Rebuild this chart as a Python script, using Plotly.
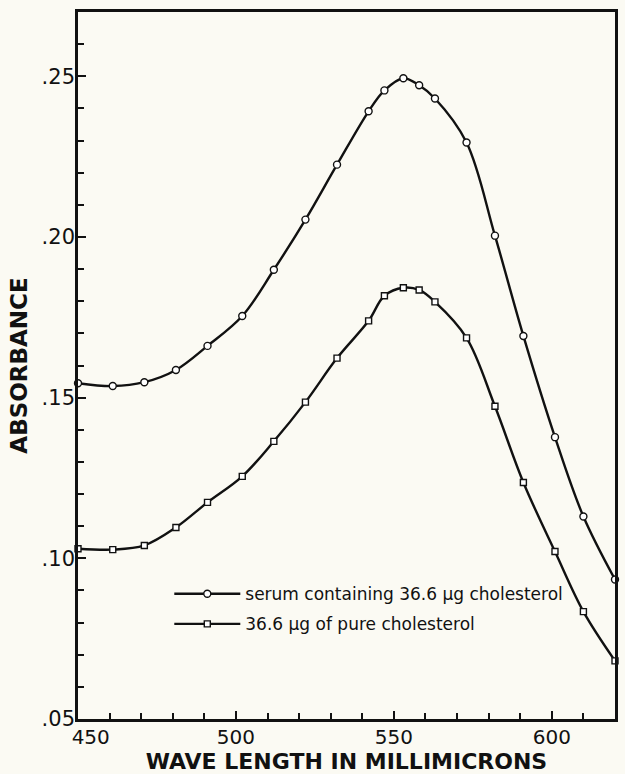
import plotly.graph_objects as go

# wavelengths
wavelength = [450, 461, 471, 481, 491, 502, 512, 522, 532, 542, 547, 553, 558, 563, 573, 582, 591, 601, 610, 620]
serum = [0.1545, 0.1536, 0.1548, 0.1586, 0.1661, 0.1754, 0.1898, 0.2054, 0.2225, 0.2391, 0.2456, 0.2494,
         0.2472, 0.2431, 0.2294, 0.2004, 0.1692, 0.1377, 0.1130, 0.0934]
pure = [0.1030, 0.1027, 0.1040, 0.1096, 0.1174, 0.1255, 0.1364, 0.1486, 0.1623, 0.1739, 0.1817, 0.1842,
        0.1835, 0.1798, 0.1686, 0.1473, 0.1236, 0.1021, 0.0834, 0.0681]
names = ["serum containing 36.6 \u03bcg cholesterol", "36.6 \u03bcg of pure cholesterol"]
y_tickvals = [0.05, 0.10, 0.15, 0.20, 0.25]
y_ticktext = [".05", ".10", ".15", ".20", ".25"]
x_tickvals = [450, 500, 550, 600]
x_ticktext = ["450", "500", "550", "600"]

BG = "#fbfaf3"
INK = "#111111"
FONT = "DejaVu Sans"

# the first x label sits clear of the corner in the original; pad it so it is nudged right
x_labels = ["\u00a0" * 4 + x_ticktext[0]] + x_ticktext[1:]

fig = go.Figure()
fig.add_trace(go.Scatter(
    x=wavelength, y=serum, name=names[0], mode="lines+markers", legendgroup="a",
    line=dict(color=INK, width=2.4, shape="spline", smoothing=1.0),
    marker=dict(symbol="circle", size=7, color="white", line=dict(color=INK, width=1.4)),
    cliponaxis=False,
))
fig.add_trace(go.Scatter(
    x=wavelength, y=pure, name=names[1], mode="lines+markers", legendgroup="b",
    line=dict(color=INK, width=2.4, shape="spline", smoothing=1.0),
    marker=dict(symbol="square", size=6, color="white", line=dict(color=INK, width=1.4)),
    cliponaxis=False,
))

fig.update_layout(
    width=625, height=774,
    paper_bgcolor=BG, plot_bgcolor=BG,
    margin=dict(l=78, r=10, t=12, b=55),
    font=dict(family=FONT, color=INK),
    showlegend=True,
    legend=dict(
        x=0.17, y=0.202, xanchor="left", yanchor="top",
        bgcolor="rgba(0,0,0,0)", font=dict(size=17, family=FONT, color=INK),
        itemwidth=66, tracegroupgap=5,
    ),
    xaxis=dict(
        range=[450, 620], tickvals=x_tickvals, ticktext=x_labels, automargin=False,
        ticks="inside", ticklen=8, tickwidth=1.8, tickcolor=INK,
        minor=dict(dtick=10, ticks="inside", ticklen=6, tickwidth=1.6, tickcolor=INK),
        showline=True, linecolor=INK, linewidth=2.6, mirror=True,
        showgrid=False, zeroline=False, ticklabelstandoff=-2,
        tickfont=dict(size=20, family=FONT, color=INK),
        title=dict(text="WAVE LENGTH IN MILLIMICRONS",
                   font=dict(size=22, family=FONT, color=INK, weight="bold"), standoff=2),
    ),
    yaxis=dict(
        range=[0.05, 0.27], tickvals=y_tickvals, ticktext=y_ticktext, automargin=False,
        ticks="inside", ticklen=8, tickwidth=1.8, tickcolor=INK,
        minor=dict(dtick=0.01, tick0=0.05, ticks="inside", ticklen=6, tickwidth=1.6, tickcolor=INK),
        showline=True, linecolor=INK, linewidth=2.6, mirror=True,
        showgrid=False, zeroline=False, ticklabelstandoff=-4,
        tickfont=dict(size=21, family=FONT, color=INK),
        title=dict(text="ABSORBANCE",
                   font=dict(size=23, family=FONT, color=INK, weight="bold"), standoff=8),
    ),
)

fig.write_html(
    "out.html",
    config={"displayModeBar": False},
    post_script="document.body.style.margin='0px';document.body.style.background='" + BG + "';",
)
